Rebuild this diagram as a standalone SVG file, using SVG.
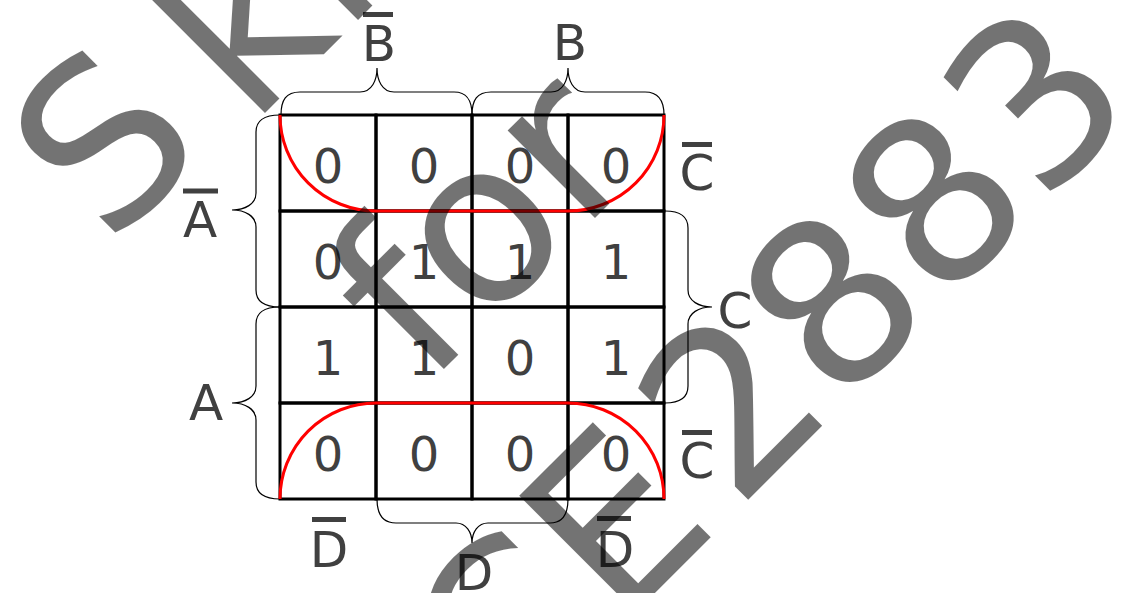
<svg xmlns="http://www.w3.org/2000/svg" width="1124" height="593" viewBox="0 0 1124 593">
<style>
.lbl{font-family:"DejaVu Sans","Liberation Sans",sans-serif;font-size:50px;fill:#404040;text-anchor:middle}
.dig{font-family:"DejaVu Sans","Liberation Sans",sans-serif;font-size:48px;fill:#404040;text-anchor:middle}
.bar{stroke:#404040;stroke-width:5}
.cell{fill:none;stroke:#000;stroke-width:3}
.brace{stroke:#000;stroke-width:1.2;fill:none}
.loop{stroke:#f00;stroke-width:3;fill:none}
.wm{font-family:"DejaVu Sans",sans-serif;font-size:226px;fill:#000;fill-opacity:0.55}
</style>
<rect width="1124" height="593" fill="#fff"/>
<g id="cells">
<g id="cell-r1c1"><rect class="cell" x="280" y="115" width="96" height="96"/><text class="dig" x="328" y="183">0</text></g>
<g id="cell-r1c2"><rect class="cell" x="376" y="115" width="96" height="96"/><text class="dig" x="424" y="183">0</text></g>
<g id="cell-r1c3"><rect class="cell" x="472" y="115" width="96" height="96"/><text class="dig" x="520" y="183">0</text></g>
<g id="cell-r1c4"><rect class="cell" x="568" y="115" width="96" height="96"/><text class="dig" x="616" y="183">0</text></g>
<g id="cell-r2c1"><rect class="cell" x="280" y="211" width="96" height="96"/><text class="dig" x="328" y="279">0</text></g>
<g id="cell-r2c2"><rect class="cell" x="376" y="211" width="96" height="96"/><text class="dig" x="424" y="279">1</text></g>
<g id="cell-r2c3"><rect class="cell" x="472" y="211" width="96" height="96"/><text class="dig" x="520" y="279">1</text></g>
<g id="cell-r2c4"><rect class="cell" x="568" y="211" width="96" height="96"/><text class="dig" x="616" y="279">1</text></g>
<g id="cell-r3c1"><rect class="cell" x="280" y="307" width="96" height="96"/><text class="dig" x="328" y="375">1</text></g>
<g id="cell-r3c2"><rect class="cell" x="376" y="307" width="96" height="96"/><text class="dig" x="424" y="375">1</text></g>
<g id="cell-r3c3"><rect class="cell" x="472" y="307" width="96" height="96"/><text class="dig" x="520" y="375">0</text></g>
<g id="cell-r3c4"><rect class="cell" x="568" y="307" width="96" height="96"/><text class="dig" x="616" y="375">1</text></g>
<g id="cell-r4c1"><rect class="cell" x="280" y="403" width="96" height="96"/><text class="dig" x="328" y="471">0</text></g>
<g id="cell-r4c2"><rect class="cell" x="376" y="403" width="96" height="96"/><text class="dig" x="424" y="471">0</text></g>
<g id="cell-r4c3"><rect class="cell" x="472" y="403" width="96" height="96"/><text class="dig" x="520" y="471">0</text></g>
<g id="cell-r4c4"><rect class="cell" x="568" y="403" width="96" height="96"/><text class="dig" x="616" y="471">0</text></g>
</g>
<g id="labels">
<g id="label-Bbar"><line class="bar" x1="363" y1="14.5" x2="393" y2="14.5"/><text class="lbl" x="379" y="61">B</text></g>
<g id="label-B"><text class="lbl" x="570" y="60">B</text></g>
<g id="label-Abar"><line class="bar" x1="183" y1="191" x2="218" y2="191"/><text class="lbl" x="200" y="237">A</text></g>
<g id="label-A"><text class="lbl" x="206" y="420">A</text></g>
<g id="label-Cbar-top"><line class="bar" x1="682" y1="144.5" x2="712" y2="144.5"/><text class="lbl" x="697" y="190">C</text></g>
<g id="label-C"><text class="lbl" x="735" y="328">C</text></g>
<g id="label-Cbar-bottom"><line class="bar" x1="682" y1="432.5" x2="712" y2="432.5"/><text class="lbl" x="697" y="478">C</text></g>
<g id="label-Dbar-left"><line class="bar" x1="312" y1="519.5" x2="346" y2="519.5"/><text class="lbl" x="329" y="567">D</text></g>
<g id="label-D"><text class="lbl" x="474" y="590">D</text></g>
<g id="label-Dbar-right"><line class="bar" x1="597" y1="518.5" x2="631" y2="518.5"/><text class="lbl" x="615" y="567">D</text></g>
</g>
<g id="connectors">
<path class="brace" d="M281,115 C281,100 286,92 300,92 L360,92 C372,92 377,80 377,68 C377,80 382,92 394,92 L454,92 C467,92 472,100 472,115"/>
<path class="brace" d="M472,115 C472,100 477,92 491,92 L551,92 C563,92 568,80 568,68 C568,80 573,92 585,92 L645,92 C658,92 664,100 664,115"/>
<path class="brace" d="M280,115 C265,115 256,120 256,132 L256,193 C256,204 245,210 232,210 C245,210 256,216 256,227 L256,290 C256,302 265,307 280,307"/>
<path class="brace" d="M280,307 C265,307 256,312 256,324 L256,386 C256,397 245,403 232,403 C245,403 256,409 256,420 L256,482 C256,494 265,499 280,499"/>
<path class="brace" d="M665,211 C680,211 688,216 688,228 L688,290 C688,301 699,307 712,307 C699,307 688,313 688,324 L688,386 C688,398 680,403 665,403"/>
<path class="brace" d="M377,499 C377,514 382,523 396,523 L456,523 C466,523 472,532 472,543 C472,532 478,523 488,523 L550,523 C563,523 568,514 568,499"/>
<path class="loop" d="M280,115 A96,96 0 0 0 376,211 L568,211 A96,96 0 0 0 664,115"/>
<path class="loop" d="M280,499 A96,96 0 0 1 376,403 L568,403 A96,96 0 0 1 664,499"/>
</g>
<g id="watermark" class="wm">
<text x="149" y="229" transform="rotate(-45 149 229)"><tspan dx="-42" dy="-14">S</tspan><tspan dx="42" dy="14">ki</tspan></text>
<text x="426.5" y="386.5" transform="rotate(-45 426.5 386.5)">for</text>
<text x="524" y="724" transform="rotate(-45 524 724)"><tspan dx="-25">C</tspan><tspan dx="3">E</tspan><tspan dx="22">2883</tspan></text>
</g>
</svg>
